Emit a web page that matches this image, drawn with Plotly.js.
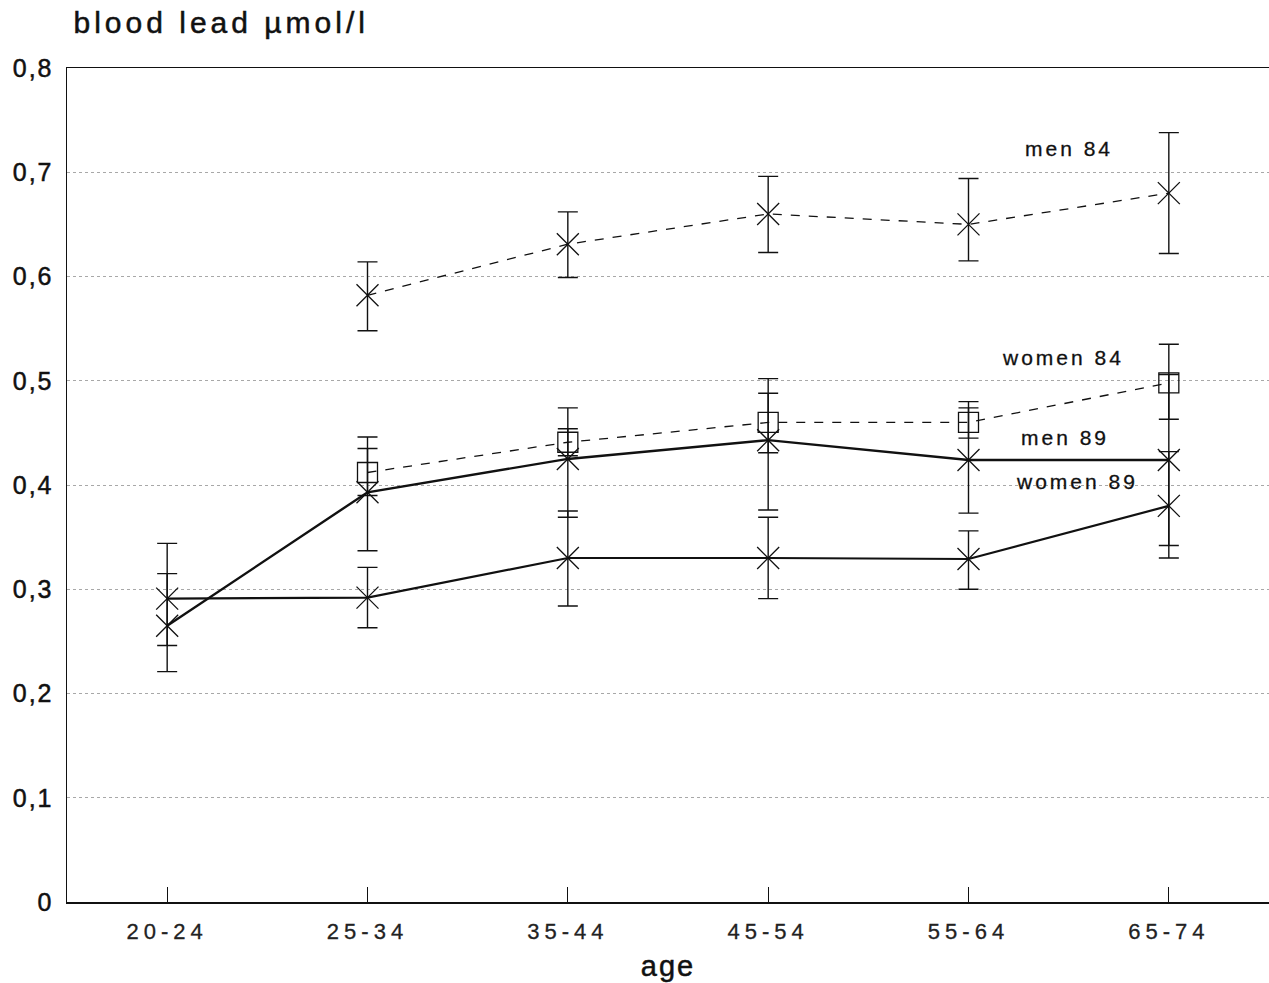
<!DOCTYPE html>
<html>
<head>
<meta charset="utf-8">
<script src="https://cdn.plot.ly/plotly-3.0.1.min.js"></script>
<style>
html, body { margin: 0; padding: 0; background: #fff; }
#chart { width: 1269px; height: 983px; }
.xtick text { letter-spacing: 5px; stroke: #222; stroke-width: 0.3px; }
.ytick text { letter-spacing: 2px; stroke: #111; stroke-width: 0.5px; }
.g-xtitle text { letter-spacing: 2px; stroke: #111; stroke-width: 0.5px; }
.annotation-text { letter-spacing: 3px; stroke: #111; stroke-width: 0.3px; }
.annotation[data-index="4"] .annotation-text { letter-spacing: 4px; stroke-width: 0.5px; }
</style>
</head>
<body>
<div id="chart"></div>
<script>
// Categories (age groups)
const ageGroups = ['20-24', '25-34', '35-44', '45-54', '55-64', '65-74'];

// men 84 (dashed, X markers)
const men84 = [null, 0.582, 0.631, 0.660, 0.650, 0.680];
const men84Upper = [null, 0.614, 0.662, 0.696, 0.694, 0.738];
const men84Lower = [null, 0.548, 0.599, 0.623, 0.615, 0.622];

// women 84 (dashed, square markers)
const women84 = [null, 0.412, 0.441, 0.460, 0.460, 0.498];
const women84Upper = [null, 0.435, 0.454, 0.488, 0.480, 0.535];
const women84Lower = [null, 0.390, 0.428, 0.431, 0.445, 0.463];

// men 89 (solid, X markers)
const men89 = [0.265, 0.393, 0.425, 0.443, 0.424, 0.424];
const men89Upper = [0.315, 0.446, 0.474, 0.502, 0.474, 0.506];
const men89Lower = [0.221, 0.337, 0.369, 0.376, 0.373, 0.342];

// women 89 (solid, X markers)
const women89 = [0.291, 0.292, 0.330, 0.330, 0.329, 0.380];
const women89Upper = [0.344, 0.321, 0.375, 0.369, 0.356, 0.432];
const women89Lower = [0.246, 0.263, 0.284, 0.291, 0.300, 0.330];

// Y tick labels
const yTickVals = [0, 0.1, 0.2, 0.3, 0.4, 0.5, 0.6, 0.7, 0.8];
const yTickText = ['0', '0,1', '0,2', '0,3', '0,4', '0,5', '0,6', '0,7', '0,8'];

// Series labels placed in the plot
const seriesLabels = ['men 84', 'women 84', 'men 89', 'women 89'];
const labelX = [4.5, 4.47, 4.48, 4.54];
const labelY = [0.723, 0.522, 0.446, 0.403];

const xIdx = ageGroups.map((_, i) => i);

function diff(a, b) { return a.map((v, i) => (v == null || b[i] == null) ? null : +(v - b[i]).toFixed(4)); }

function series(vals, upper, lower, dash, width, symbol, size) {
  return {
    type: 'scatter',
    mode: 'lines+markers',
    x: xIdx,
    y: vals,
    connectgaps: false,
    line: { color: '#111', width: width, dash: dash },
    marker: {
      symbol: symbol,
      size: size,
      color: '#111',
      line: { color: '#111', width: 1.3 }
    },
    error_y: {
      type: 'data',
      symmetric: false,
      array: diff(upper, vals),
      arrayminus: diff(vals, lower),
      color: '#111',
      thickness: 1.4,
      width: 10
    },
    showlegend: false,
    hoverinfo: 'skip'
  };
}

const data = [
  series(men84, men84Upper, men84Lower, 'dash', 1.3, 'x-thin-open', 22),
  series(women84, women84Upper, women84Lower, 'dash', 1.3, 'square-open', 20),
  series(men89, men89Upper, men89Lower, 'solid', 2.4, 'x-thin-open', 22),
  series(women89, women89Upper, women89Lower, 'solid', 2.2, 'x-thin-open', 22)
];

const fontFam = '"Liberation Sans", Arial, sans-serif';

const annotations = seriesLabels.map((t, i) => ({
  x: labelX[i], y: labelY[i], xref: 'x', yref: 'y',
  text: t, showarrow: false,
  font: { family: fontFam, size: 21, color: '#111' },
  xanchor: 'center', yanchor: 'middle'
}));

annotations.push({
  x: 0.011, y: 1.055, xref: 'paper', yref: 'paper',
  text: 'blood lead µmol/l', showarrow: false,
  font: { family: fontFam, size: 30, color: '#111' },
  xanchor: 'left', yanchor: 'middle'
});

const layout = {
  width: 1269,
  height: 983,
  margin: { l: 67, r: 0, t: 68, b: 81 },
  paper_bgcolor: '#fff',
  plot_bgcolor: '#fff',
  font: { family: fontFam, color: '#111' },
  xaxis: {
    range: [-0.5, 5.5],
    tickvals: xIdx,
    ticktext: ageGroups,
    showgrid: false,
    zeroline: false,
    showline: true,
    linecolor: '#111',
    linewidth: 1.5,
    mirror: true,
    ticks: 'inside',
    ticklen: 15,
    tickwidth: 1.2,
    tickcolor: '#111',
    ticklabelstandoff: 9,
    tickfont: { size: 22, color: '#222' },
    title: { text: 'age', font: { size: 29, color: '#111' }, standoff: 13 },
    automargin: false,
    fixedrange: true
  },
  yaxis: {
    range: [0, 0.8],
    tickvals: yTickVals,
    ticktext: yTickText,
    showgrid: true,
    gridcolor: '#a8a8a8',
    griddash: 'dot',
    gridwidth: 1,
    zeroline: false,
    showline: true,
    linecolor: '#111',
    linewidth: 1.5,
    ticks: '',
    ticklabelstandoff: 7,
    tickfont: { size: 25, color: '#111' },
    automargin: false,
    fixedrange: true
  },
  annotations: annotations
};

Plotly.newPlot('chart', data, layout, { displayModeBar: false, staticPlot: true });
</script>
</body>
</html>
